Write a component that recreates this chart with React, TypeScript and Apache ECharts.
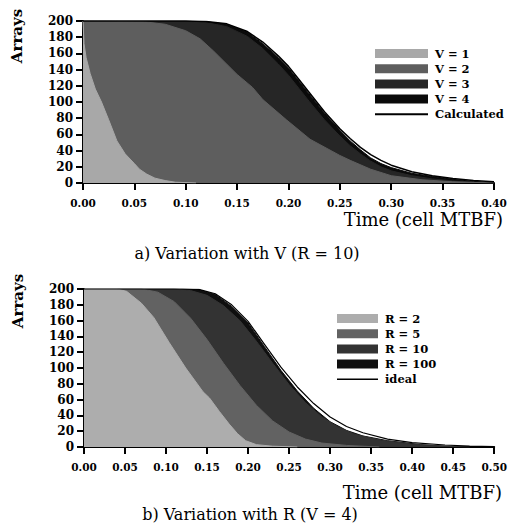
import React, { useEffect, useRef } from "react";
import * as echarts from "echarts";

// ---- Panel a: Variation with V (R = 10) ----
const namesA = ["V = 1", "V = 2", "V = 3", "V = 4", "Calculated"];
const v1: number[][] = [[0,200],[0.001,172],[0.003,155],[0.007,135],[0.012,116],[0.018,100],[0.025,78],[0.033,52],[0.041,36],[0.05,24],[0.055,17],[0.062,11],[0.07,6],[0.08,3],[0.09,1],[0.11,0]];
const v2: number[][] = [[0,200],[0.06,199],[0.08,196],[0.10,188],[0.114,178],[0.127,163],[0.15,134],[0.165,118],[0.175,103],[0.198,78],[0.221,54],[0.25,34],[0.26,28],[0.28,17],[0.30,9],[0.33,4],[0.36,1.5],[0.40,0]];
const v3: number[][] = [[0,200],[0.10,200],[0.12,198],[0.14,193],[0.16,181],[0.175,166],[0.19,147],[0.20,133],[0.21,117],[0.22,101],[0.235,78],[0.25,58],[0.26,46],[0.27,36],[0.28,27],[0.29,20],[0.30,15],[0.32,9],[0.34,5],[0.36,2.5],[0.38,1],[0.40,0]];
const v4: number[][] = [[0,200],[0.10,200],[0.12,199],[0.14,196],[0.16,186],[0.175,172],[0.19,155],[0.20,142],[0.21,126],[0.22,110],[0.235,86],[0.25,65],[0.26,52],[0.27,41],[0.28,31],[0.29,24],[0.30,19],[0.32,12],[0.34,8],[0.36,4.5],[0.38,2],[0.40,0.5]];
const calcA: number[][] = [[0,200],[0.10,200],[0.12,199.5],[0.14,196.5],[0.16,187],[0.175,174],[0.19,157],[0.20,144],[0.21,128],[0.22,112],[0.235,88],[0.25,67],[0.26,55],[0.27,44],[0.28,35],[0.29,28],[0.30,22],[0.32,14],[0.34,9],[0.36,5.5],[0.38,3],[0.40,1.5]];

// ---- Panel b: Variation with R (V = 4) ----
const namesB = ["R = 2", "R = 5", "R = 10", "R = 100", "ideal"];
const r2: number[][] = [[0,200],[0.04,200],[0.052,197],[0.07,182],[0.085,164],[0.104,132],[0.124,100],[0.145,70],[0.153,62],[0.165,45],[0.177,29],[0.187,17],[0.197,8],[0.21,3],[0.23,1],[0.26,0]];
const r5: number[][] = [[0,200],[0.07,200],[0.09,196],[0.11,184],[0.13,163],[0.15,136],[0.17,106],[0.19,78],[0.21,53],[0.23,33],[0.25,19],[0.27,10],[0.29,5],[0.32,2],[0.36,0]];
const r10: number[][] = [[0,200],[0.11,200],[0.13,198],[0.15,192],[0.17,179],[0.19,160],[0.21,134],[0.23,106],[0.25,79],[0.27,56],[0.29,38],[0.31,25],[0.33,16],[0.36,9],[0.40,3.5],[0.44,1],[0.47,0]];
const r100: number[][] = [[0,200],[0.12,200],[0.14,199],[0.16,193],[0.18,178],[0.20,157],[0.22,127],[0.24,97],[0.26,71],[0.28,49],[0.30,32],[0.32,21],[0.34,14],[0.37,8],[0.41,3],[0.44,1],[0.47,0]];
const idealB: number[][] = [[0,200],[0.12,200],[0.14,199.5],[0.16,194],[0.18,180],[0.20,159],[0.22,130],[0.24,101],[0.26,76],[0.28,55],[0.30,38],[0.32,26],[0.34,18],[0.37,10],[0.40,5.5],[0.44,2.5],[0.47,1],[0.50,0.5]];

const colorsA = ["#a8a8a8", "#5e5e5e", "#262626", "#0a0a0a", "#000000"];
const colorsB = ["#adadad", "#626262", "#333333", "#0f0f0f", "#000000"];

const FONT = '"DejaVu Serif", "Liberation Serif", serif';

function areaSeries(name: string, data: number[][], color: string, idx: number, z: number) {
  return {
    name, type: "line", xAxisIndex: idx, yAxisIndex: idx, data,
    symbol: "none", smooth: false, z,
    lineStyle: { color, width: 1 },
    itemStyle: { color },
    areaStyle: { color, opacity: 1 },
  };
}
function lineSeries(name: string, data: number[][], idx: number, width: number) {
  return {
    name, type: "line", xAxisIndex: idx, yAxisIndex: idx, data,
    symbol: "none", smooth: false, z: 10,
    lineStyle: { color: "#000", width },
    itemStyle: { color: "#000" },
  };
}

function xAxis(idx: number, max: number) {
  return {
    type: "value", gridIndex: idx, min: 0, max, interval: 0.05,
    axisLine: { show: true, onZero: false, lineStyle: { color: "#000", width: 2 } },
    axisTick: { show: true, length: 7, lineStyle: { color: "#000", width: 2 } },
    axisLabel: { formatter: (v: number) => v.toFixed(2), fontFamily: FONT, fontSize: 10.5, fontWeight: "bold", color: "#000", margin: 14 },
    splitLine: { show: false },
  };
}
function yAxis(idx: number) {
  return {
    type: "value", gridIndex: idx, min: 0, max: 200, interval: 20,
    axisLine: { show: true, onZero: false, lineStyle: { color: "#000", width: 2 } },
    axisTick: { show: true, length: 7, lineStyle: { color: "#000", width: 2 } },
    axisLabel: { fontFamily: FONT, fontSize: 12, fontWeight: "bold", color: "#000", margin: 10 },
    splitLine: { show: false },
  };
}

function legend(names: string[], colors: string[], left: number, top: number, w: number) {
  return {
    orient: "vertical", left, top, itemWidth: w, itemHeight: 9, itemGap: 2.2,
    selectedMode: false,
    textStyle: { fontFamily: FONT, fontSize: 11.5, fontWeight: "bold", color: "#000", lineHeight: 13, padding: [0, 0, 0, 2] },
    data: names.map((n, i) => i < 4
      ? { name: n, icon: "rect", itemStyle: { color: colors[i], borderWidth: 0 } }
      : { name: n, icon: "path://M0,0L100,0L100,4L0,4Z", itemStyle: { color: "#000", borderWidth: 0 } }),
  };
}

export default function App() {
  const ref = useRef<HTMLDivElement>(null);
  useEffect(() => {
    if (!ref.current) return;
    const chart = echarts.init(ref.current, undefined, { renderer: "svg" });
    const option = {
      animation: false,
      backgroundColor: "#fff",
      grid: [
        { left: 83, top: 21, width: 411, height: 162 },
        { left: 84, top: 289, width: 412, height: 158 },
      ],
      xAxis: [xAxis(0, 0.4), xAxis(1, 0.5)],
      yAxis: [yAxis(0), yAxis(1)],
      legend: [
        legend(namesA, colorsA, 370, 42, 53),
        legend(namesB, colorsB, 332, 307, 41),
      ],
      series: [
        areaSeries(namesA[3], v4, colorsA[3], 0, 1),
        areaSeries(namesA[2], v3, colorsA[2], 0, 2),
        areaSeries(namesA[1], v2, colorsA[1], 0, 3),
        areaSeries(namesA[0], v1, colorsA[0], 0, 4),
        lineSeries(namesA[4], calcA, 0, 1.5),
        areaSeries(namesB[3], r100, colorsB[3], 1, 1),
        areaSeries(namesB[2], r10, colorsB[2], 1, 2),
        areaSeries(namesB[1], r5, colorsB[1], 1, 3),
        areaSeries(namesB[0], r2, colorsB[0], 1, 4),
        lineSeries(namesB[4], idealB, 1, 1.2),
      ],
      graphic: [
        { type: "text", x: 17, y: 36, rotation: Math.PI / 2, style: { text: "Arrays", font: `bold 15px ${FONT}`, fill: "#000", textAlign: "center", textVerticalAlign: "middle" } },
        { type: "text", x: 503, y: 219, style: { text: "Time (cell MTBF)", font: `18px ${FONT}`, fill: "#000", textAlign: "right", textVerticalAlign: "middle" } },
        { type: "text", x: 247, y: 253, style: { text: "a) Variation with V (R = 10)", font: `16px ${FONT}`, fill: "#000", textAlign: "center", textVerticalAlign: "middle" } },
        { type: "text", x: 18, y: 301, rotation: Math.PI / 2, style: { text: "Arrays", font: `bold 15px ${FONT}`, fill: "#000", textAlign: "center", textVerticalAlign: "middle" } },
        { type: "text", x: 502, y: 492, style: { text: "Time (cell MTBF)", font: `18px ${FONT}`, fill: "#000", textAlign: "right", textVerticalAlign: "middle" } },
        { type: "text", x: 250, y: 514, style: { text: "b) Variation with R (V = 4)", font: `16px ${FONT}`, fill: "#000", textAlign: "center", textVerticalAlign: "middle" } },
      ],
    };
    chart.setOption(option as any);
    return () => chart.dispose();
  }, []);
  return <div ref={ref} style={{ position: "fixed", left: 0, top: 0, width: 510, height: 523 }} />;
}
